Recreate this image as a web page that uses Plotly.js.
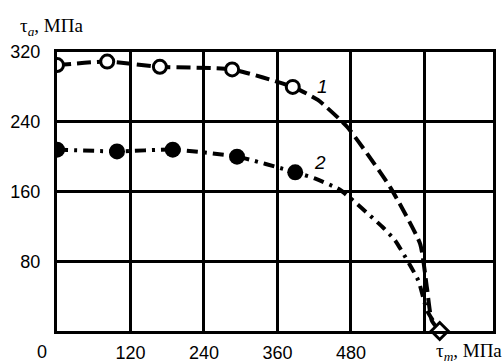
<!DOCTYPE html>
<html><head><meta charset="utf-8">
<script src="https://cdn.plot.ly/plotly-3.0.1.min.js"></script>
<style>html,body{margin:0;padding:0;background:#fff}#c{width:503px;height:363px}</style>
</head><body><div id="c"></div>
<script>
// markers
var c1MarkX = [0, 82, 168, 286, 385];
var c1MarkY = [305, 309, 303, 300, 280];
var c2MarkX = [0, 98, 189, 294, 389];
var c2MarkY = [208, 206, 208, 200, 182];
// curve paths
var c1LineX = [0, 82, 168, 286, 385, 426, 474, 544, 593, 604, 612, 625];
var c1LineY = [305, 309, 303, 300, 280, 265, 234, 165, 100, 50, 12, 0];
var c2LineX = [0, 98, 189, 294, 389, 421, 462, 532, 552, 590, 604, 625];
var c2LineY = [208, 206, 208, 200, 182, 175, 162, 119, 104, 58, 24, 0];
var endX = [625], endY = [0];
var xTicks = [120, 240, 360, 480];
var xTickText = ['120', '240', '360', '480'];
var xExtraGrid = [600];
var yTicks = [80, 160, 240, 320];
var yTickText = ['80', '160', '240', '320'];

var traces = [
  {x: c1LineX, y: c1LineY, mode: 'lines', line: {color: '#000', width: 4, dash: '14px,6px', shape: 'spline', smoothing: 0.5}, hoverinfo: 'skip'},
  {x: c2LineX, y: c2LineY, mode: 'lines', line: {color: '#000', width: 4, dash: '11px,6px,3px,6px', shape: 'spline', smoothing: 0.5}, hoverinfo: 'skip'},
  {x: c1MarkX, y: c1MarkY, mode: 'markers', marker: {symbol: 'circle', size: 13, color: '#fff', line: {color: '#000', width: 3}}},
  {x: c2MarkX, y: c2MarkY, mode: 'markers', marker: {symbol: 'circle', size: 16, color: '#000'}},
  {x: endX, y: endY, mode: 'markers', marker: {symbol: 'diamond', size: 13, color: '#fff', line: {color: '#000', width: 3}}, cliponaxis: false}
];

var tickFont = {family: 'Liberation Sans, Arial, sans-serif', size: 18, color: '#000'};
var titleFont = {family: 'Liberation Serif, Times New Roman, serif', size: 19, color: '#000'};
var layout = {
  width: 503, height: 363,
  margin: {l: 57, r: 10, t: 52, b: 32},
  paper_bgcolor: '#fff', plot_bgcolor: '#fff',
  showlegend: false,
  xaxis: {range: [0, 712], tickvals: xTicks, ticktext: xTickText, showgrid: true, gridcolor: '#000', gridwidth: 3,
    minor: {tickvals: xExtraGrid, showgrid: true, gridcolor: '#000', gridwidth: 3, ticks: ''},
    zeroline: false, showline: true, linecolor: '#000', linewidth: 3, mirror: true, ticks: '', tickfont: tickFont, ticklabelstandoff: 3},
  yaxis: {range: [0, 320], tickvals: yTicks, ticktext: yTickText, showgrid: true, gridcolor: '#000', gridwidth: 3,
    zeroline: false, showline: true, linecolor: '#000', linewidth: 3, mirror: true, ticks: '', tickfont: tickFont, ticklabelstandoff: 10},
  annotations: [
    {x: 0, y: 0, xref: 'x', yref: 'paper', text: '0', showarrow: false, xanchor: 'center', yanchor: 'top', xshift: -15, yshift: -9, font: tickFont},
    {x: 0.0, y: 1, xref: 'paper', yref: 'paper', text: 'τ<sub><i>a</i></sub>, МПа', showarrow: false, xanchor: 'left', yanchor: 'bottom', xshift: -39, yshift: 11, font: titleFont},
    {x: 1, y: 0, xref: 'paper', yref: 'paper', text: 'τ<sub><i>m</i></sub>, МПа', showarrow: false, xanchor: 'right', yanchor: 'top', xshift: 11, yshift: -7, font: titleFont},
    {x: 433, y: 280, xref: 'x', yref: 'y', text: '<i>1</i>', showarrow: false, font: {family: 'Liberation Sans, Arial, sans-serif', size: 19, color: '#000'}},
    {x: 430, y: 193, xref: 'x', yref: 'y', text: '<i>2</i>', showarrow: false, font: {family: 'Liberation Sans, Arial, sans-serif', size: 19, color: '#000'}}
  ]
};
Plotly.newPlot('c', traces, layout, {displayModeBar: false, staticPlot: true});
</script></body></html>
